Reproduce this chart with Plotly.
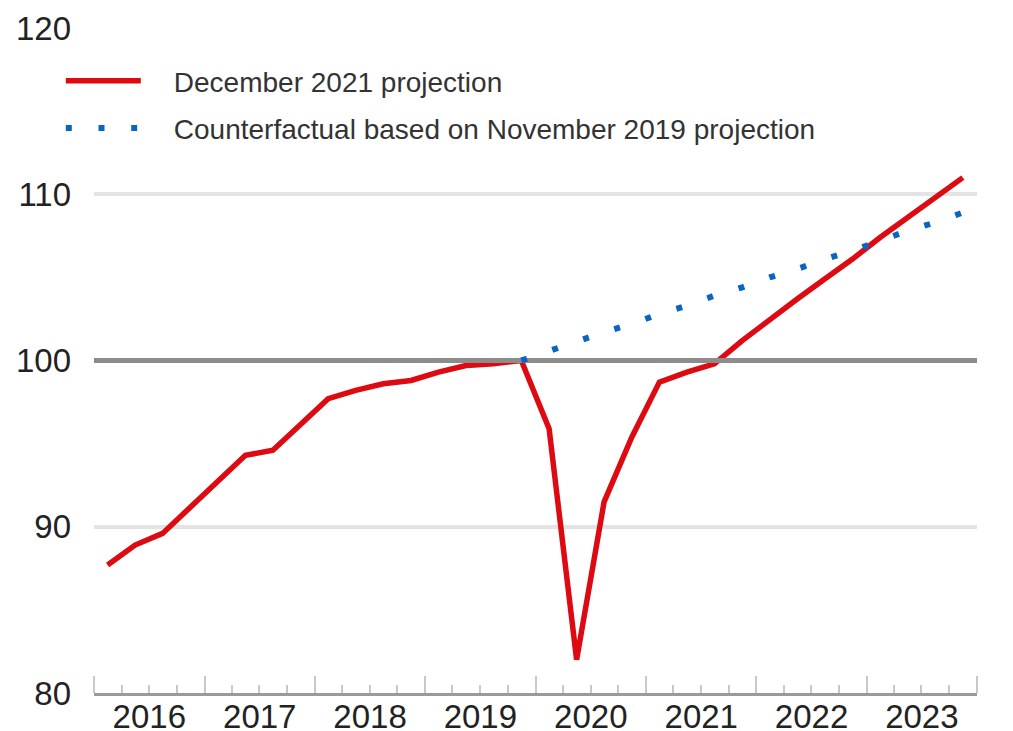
import pandas as pd
import plotly.graph_objects as go

# ---- data -------------------------------------------------------------
years = [2016, 2017, 2018, 2019, 2020, 2021, 2022, 2023]
quarters = [f"{y}Q{q}" for y in years for q in (1, 2, 3, 4)]

december_2021_projection = [
    87.7, 88.9, 89.6, 91.2, 92.8, 94.3, 94.6, 96.2,
    97.7, 98.2, 98.6, 98.8, 99.3, 99.7, 99.8, 100.0,
    95.9, 82.0, 91.5, 95.4, 98.7, 99.3, 99.8, 101.2,
    102.5, 103.7, 104.9, 106.1, 107.4, 108.6, 109.8, 111.0,
]

counterfactual_quarters = quarters[15:]          # 2019Q4 .. 2023Q4
counterfactual_nov_2019 = [
    100.0, 100.6, 101.1, 101.7, 102.2, 102.8, 103.3, 103.9, 104.4,
    105.0, 105.5, 106.1, 106.6, 107.2, 107.8, 108.3, 108.9,
]

baseline = 100
x_range = ["2016-01-01", "2024-01-01"]
y_range = [80, 120]
y_ticks = [80, 90, 100, 110, 120]
series_names = ["December 2021 projection",
                "Counterfactual based on November 2019 projection"]


def mid_quarter(q):
    p = pd.Period(q, freq="Q")
    mid = p.start_time + (p.end_time - p.start_time) / 2
    return mid.floor("D").strftime("%Y-%m-%d")


x_red = [mid_quarter(q) for q in quarters]
x_blue = [mid_quarter(q) for q in counterfactual_quarters]

FONT = "Liberation Sans, Arial, Helvetica, sans-serif"
RED = "#DD0A12"
BLUE = "#0A64C4"
PAD = "\u2002\u2002"   # gap between legend symbol and legend text

fig = go.Figure()
fig.add_trace(go.Scatter(
    x=x_red, y=december_2021_projection, mode="lines",
    name=PAD + series_names[0], legendgroup="a",
    line=dict(color=RED, width=5.5),
))
# 100 reference line (drawn between the two series)
fig.add_trace(go.Scatter(
    x=x_range, y=[baseline, baseline], mode="lines",
    showlegend=False, hoverinfo="skip", cliponaxis=True,
    line=dict(color="#8C8C8C", width=5),
))
fig.add_trace(go.Scatter(
    x=x_blue, y=counterfactual_nov_2019, mode="lines",
    name=PAD + series_names[1], legendgroup="b",
    line=dict(color=BLUE, width=6, dash="6px,26.7px"),
))

fig.update_layout(
    width=1005, height=723,
    margin=dict(l=86, r=36, t=20, b=38),
    paper_bgcolor="white", plot_bgcolor="white",
    font=dict(family=FONT, color="#222222"),
    showlegend=True,
    legend=dict(
        x=-0.0376, y=0.958, xanchor="left", yanchor="top",
        font=dict(size=28, color="#333333", family=FONT),
        itemwidth=75, tracegroupgap=8,
        bgcolor="rgba(0,0,0,0)", traceorder="grouped",
    ),
    xaxis=dict(
        type="date",
        range=x_range,
        dtick="M12", tick0=x_range[0], tickformat="%Y",
        ticklabelmode="period",
        ticks="inside", ticklen=17, tickwidth=2, tickcolor="#C8C8C8",
        minor=dict(dtick="M3", ticks="inside", ticklen=8, tickwidth=2,
                   tickcolor="#C8C8C8", showgrid=False),
        showline=True, linecolor="#9A9A9A", linewidth=3,
        showgrid=False, zeroline=False, automargin=False,
        ticklabelstandoff=-8,
        tickfont=dict(size=33, color="#222222", family=FONT),
    ),
    yaxis=dict(
        range=y_range, tickvals=y_ticks,
        showgrid=True, gridcolor="#E4E4E4", gridwidth=4,
        zeroline=False, showline=False, ticks="",
        ticklabelstandoff=22, automargin=False,
        tickfont=dict(size=33, color="#222222", family=FONT),
    ),
)

fig.write_html("out.html")
